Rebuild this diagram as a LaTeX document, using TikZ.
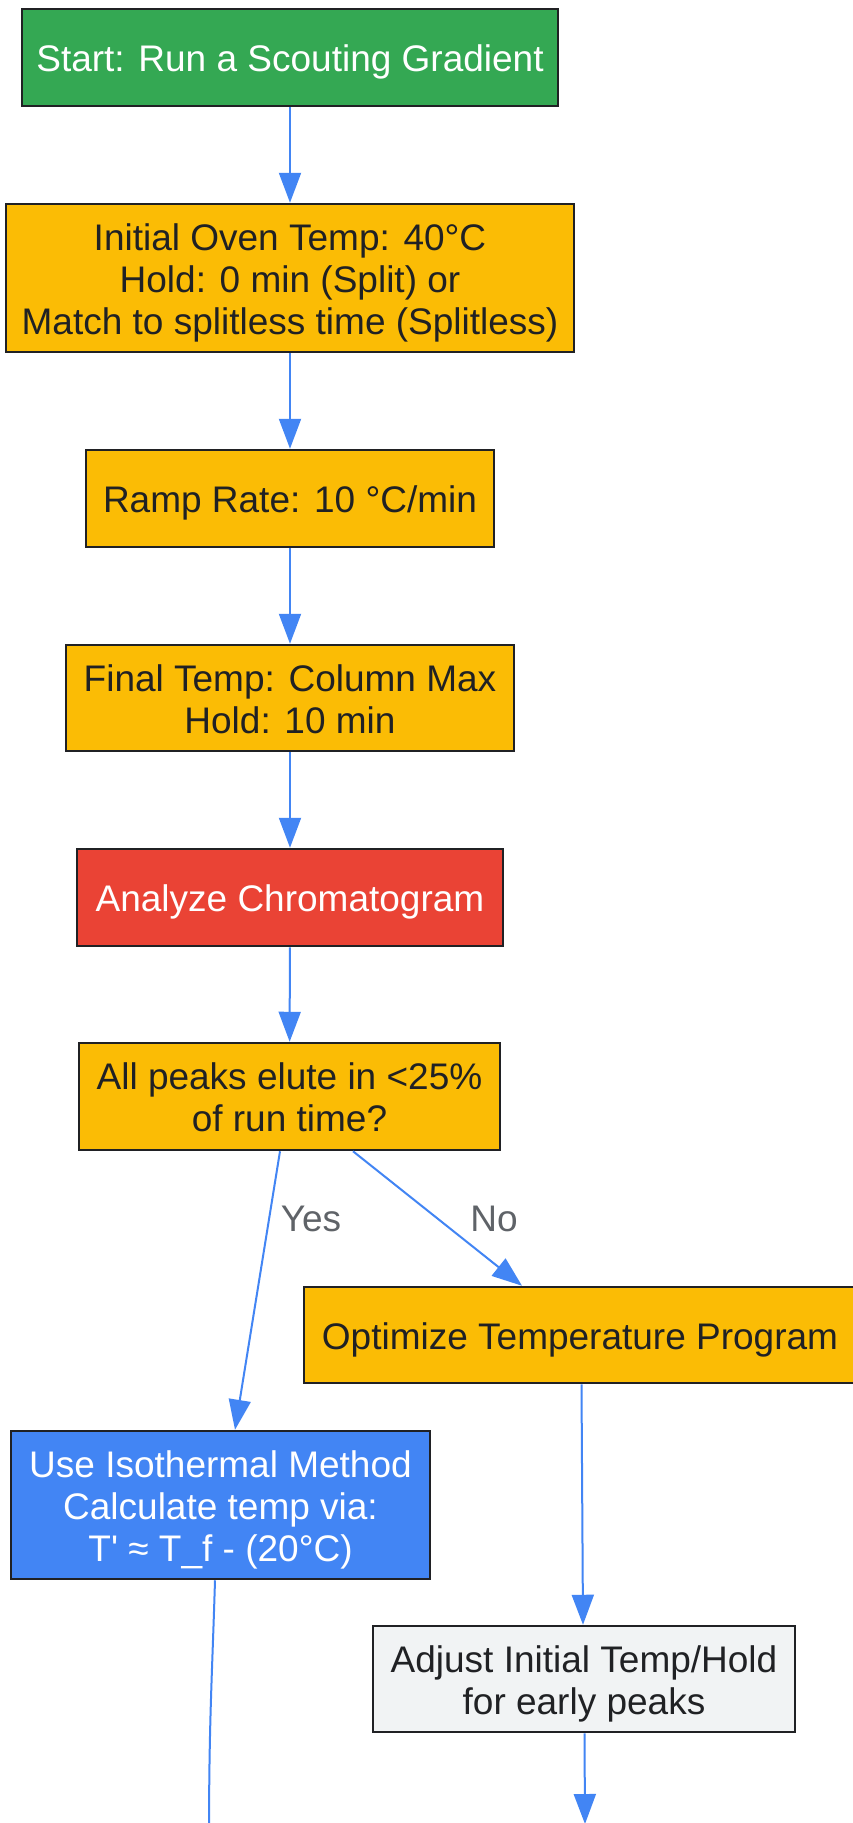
\documentclass[tikz,border=0pt]{standalone}
\usepackage{fontspec}
\setmainfont{Liberation Sans}
\usetikzlibrary{arrows.meta}
\definecolor{gGreen}{HTML}{34A853}
\definecolor{gYellow}{HTML}{FBBC05}
\definecolor{gRed}{HTML}{EA4335}
\definecolor{gBlue}{HTML}{4285F4}
\definecolor{gGray}{HTML}{F1F3F4}
\definecolor{gDark}{HTML}{202124}
\definecolor{gLabel}{HTML}{5F6368}
\newcommand\lstr{\rule[-9pt]{0pt}{46.4pt}}
\begin{document}
\begin{tikzpicture}[x=1pt,y=-1pt,
  box/.style={draw=gDark, line width=2.5pt, rectangle, inner sep=0pt, align=center,
    font={\fontsize{37}{42}\selectfont\lineskiplimit=-1000pt\lineskip=0pt}},
  greenbox/.style={box, fill=gGreen, text=white},
  yellowbox/.style={box, fill=gYellow, text=gDark},
  redbox/.style={box, fill=gRed, text=white},
  bluebox/.style={box, fill=gBlue, text=white},
  graybox/.style={box, fill=gGray, text=gDark},
  flow/.style={draw=gBlue, line width=2pt, -{Triangle[length=30pt,width=22pt]}},
  flowplain/.style={draw=gBlue, line width=2pt},
  lbl/.style={text=gLabel, font=\fontsize{37}{42}\selectfont, inner sep=0pt}
]
\useasboundingbox[fill=white] (0,0) rectangle (852,1823);

\node[greenbox, minimum width=536pt, minimum height=97pt] (start) at (290,57.5) {\lstr Start: Run a Scouting Gradient};
\node[yellowbox, minimum width=568pt, minimum height=148pt] (init) at (290,278) {\lstr Initial Oven Temp: 40°C\\\lstr Hold: 0 min (Split) or\\\lstr Match to splitless time (Splitless)};
\node[yellowbox, minimum width=408pt, minimum height=97pt] (ramp) at (290,498.5) {\lstr Ramp Rate: 10 °C/min};
\node[yellowbox, minimum width=448pt, minimum height=106pt] (final) at (290,698) {\lstr Final Temp: Column Max\\\lstr Hold: 10 min};
\node[redbox, minimum width=426pt, minimum height=97pt] (analyze) at (290,897.5) {\lstr Analyze Chromatogram};
\node[yellowbox, minimum width=421pt, minimum height=107pt] (dec) at (289.5,1096.5) {\lstr All peaks elute in <25\%\\\lstr of run time?};
\node[yellowbox, minimum width=552pt, minimum height=96pt] (opt) at (580,1335) {\lstr Optimize Temperature Program};
\node[bluebox, minimum width=419pt, minimum height=148pt] (iso) at (220.5,1505) {\lstr Use Isothermal Method\\\lstr Calculate temp via:\\\lstr T\textquotesingle{} ≈ T\_f - (20°C)};
\node[graybox, minimum width=422pt, minimum height=106pt] (adj) at (584,1679) {\lstr Adjust Initial Temp/Hold\\\lstr for early peaks};

\coordinate (outA) at (585,1824);
\coordinate (outI) at (209,1840);

\draw[flow] (start) -- (init);
\draw[flow] (init) -- (ramp);
\draw[flow] (ramp) -- (final);
\draw[flow] (final) -- (analyze);
\draw[flow] (analyze) -- (dec);
\draw[flow] ([xshift=-9.5pt]dec.south) -- ([xshift=14.5pt]iso.north);
\draw[flow] ([xshift=63.5pt]dec.south) -- ([xshift=-58pt]opt.north);
\draw[flow] ([xshift=1.5pt]opt.south) -- ([xshift=-1pt]adj.north);
\draw[flow] ([xshift=0.5pt]adj.south) -- (outA);
\draw[flowplain] ([xshift=-5.5pt]iso.south) .. controls (212,1680) and (209,1720) .. (outI);

\node[lbl] (yes) at (311,1219) {Yes};
\node[lbl] (no) at (494,1219) {No};
\end{tikzpicture}
\end{document}
